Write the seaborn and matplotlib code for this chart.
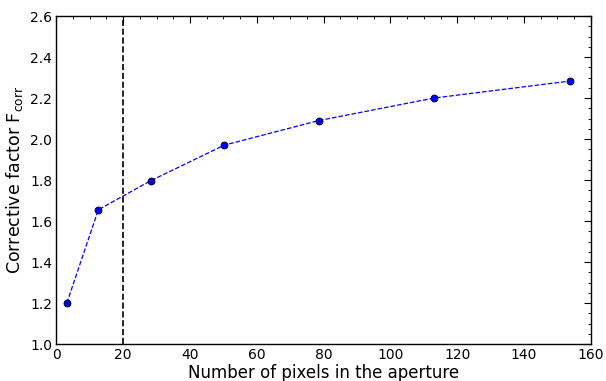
import matplotlib
matplotlib.use("Agg")
import matplotlib.pyplot as plt
import seaborn as sns
import pandas as pd
from matplotlib.ticker import MultipleLocator

npix = [3.14, 12.57, 28.27, 50.27, 78.54, 113.1, 153.9]
fcorr = [1.20, 1.655, 1.797, 1.970, 2.090, 2.200, 2.283]
vline_x = 20

sns.set_style("white")
plt.rcParams['font.family'] = ['DejaVu Sans']
plt.rcParams['mathtext.default'] = 'regular'
plt.rcParams['text.color'] = 'black'
plt.rcParams['axes.labelcolor'] = 'black'
plt.rcParams['xtick.color'] = 'black'
plt.rcParams['ytick.color'] = 'black'

df = pd.DataFrame({"npix": npix, "fcorr": fcorr})
fig, ax = plt.subplots(figsize=(6.06, 3.81), dpi=100)
fig.subplots_adjust(left=0.093, right=0.975, top=0.958, bottom=0.097)

sns.lineplot(data=df, x="npix", y="fcorr", ax=ax, color="blue", linestyle="--",
             linewidth=0.9, marker="o", markersize=5, markerfacecolor="blue",
             markeredgecolor="black", markeredgewidth=0.6)
ax.axvline(vline_x, color="black", linestyle="--", linewidth=1.2)

ax.set_xlim(0, 160)
ax.set_ylim(1.0, 2.6)
ax.xaxis.set_major_locator(MultipleLocator(20))
ax.xaxis.set_minor_locator(MultipleLocator(5))
ax.yaxis.set_major_locator(MultipleLocator(0.2))
ax.yaxis.set_minor_locator(MultipleLocator(0.05))
ax.tick_params(which="both", direction="in", top=True, right=True, labelsize=10,
               color="black", labelcolor="black")
ax.tick_params(which="major", length=5, width=0.8, pad=3)
ax.tick_params(which="minor", length=2.5, width=0.6)
for s in ax.spines.values():
    s.set_color("black")
    s.set_linewidth(1.0)
ax.set_xlabel("Number of pixels in the aperture", fontsize=12, labelpad=1, color="black")
ax.set_ylabel(r"Corrective factor F$_{\rm corr}$", fontsize=12.5, labelpad=4, color="black")

fig.savefig("out.png", dpi=100)
